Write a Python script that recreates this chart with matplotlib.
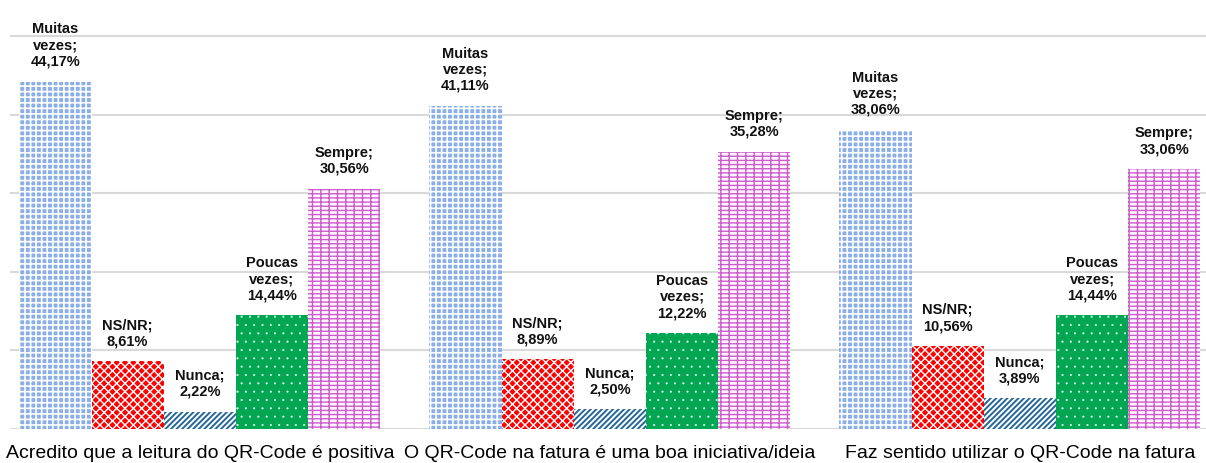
import numpy as np
import matplotlib
matplotlib.use('Agg')
import matplotlib.pyplot as plt
from matplotlib import font_manager

questions = ['Acredito que a leitura do QR-Code é positiva',
             'O QR-Code na fatura é uma boa iniciativa/ideia',
             'Faz sentido utilizar o QR-Code na fatura']
answers = ['Muitas vezes', 'NS/NR', 'Nunca', 'Poucas vezes', 'Sempre']
muitas = [44.17, 41.11, 38.06]
nsnr = [8.61, 8.89, 10.56]
nunca = [2.22, 2.50, 3.89]
poucas = [14.44, 12.22, 14.44]
sempre = [30.56, 35.28, 33.06]
series = [muitas, nsnr, nunca, poucas, sempre]

names = set(f.name for f in font_manager.fontManager.ttflist)
narrow = 'Liberation Sans Narrow' if 'Liberation Sans Narrow' in names else 'Liberation Sans'

# face, hatch color, hatch, hatch width
styles = [('#8aaee8', '#ffffff', '+++', 1.2),
          ('#ff0000', '#ffffff', 'xxxx', 1.0),
          ('#ffffff', '#23679a', '//////', 1.4),
          ('#00a651', '#e0f7ea', '..', 0.3),
          ('#fdf6fd', '#cc5ccc', '----||', 1.0)]

fig = plt.figure(figsize=(12.06, 4.64), dpi=100)
ax = fig.add_axes([10/1206, 34/464, 1196/1206, 430/464])

x = np.arange(len(questions))
w = 0.176
for i, vals in enumerate(series):
    face, hc, hatch, hw = styles[i]
    pos = x + (i - 2) * w
    plt.rcParams['hatch.linewidth'] = hw
    bars = ax.bar(pos, vals, w, color=face, edgecolor=hc, hatch=hatch, linewidth=0, zorder=2)
    for b, v in zip(bars, vals):
        if hasattr(b, 'set_hatch_linewidth'):
            b.set_hatch_linewidth(hw)
        lab = answers[i].replace(' ', '\n') + ';\n' + ('%.2f' % v).replace('.', ',') + '%'
        ax.annotate(lab, (b.get_x() + b.get_width()/2, v), xytext=(0, 10),
                    textcoords='offset points', ha='center', va='bottom',
                    fontsize=10.5, fontweight='bold', family=narrow, color='#111111',
                    linespacing=1.2)

ax.set_xlim(-0.463, 2.454)
ax.set_ylim(0, 54.7)
ax.set_yticks(np.arange(0, 51, 10))
ax.yaxis.grid(True, color='#d9d9d9', linewidth=1.5, zorder=0)
ax.set_axisbelow(True)
ax.tick_params(axis='y', left=False, labelleft=False)
ax.tick_params(axis='x', length=0, pad=11)
ax.set_xticks(x)
ax.set_xticklabels(questions, fontsize=14, family='Liberation Sans', color='#000000')
for s in ax.spines.values():
    s.set_visible(False)

fig.savefig('out.png', dpi=100)
